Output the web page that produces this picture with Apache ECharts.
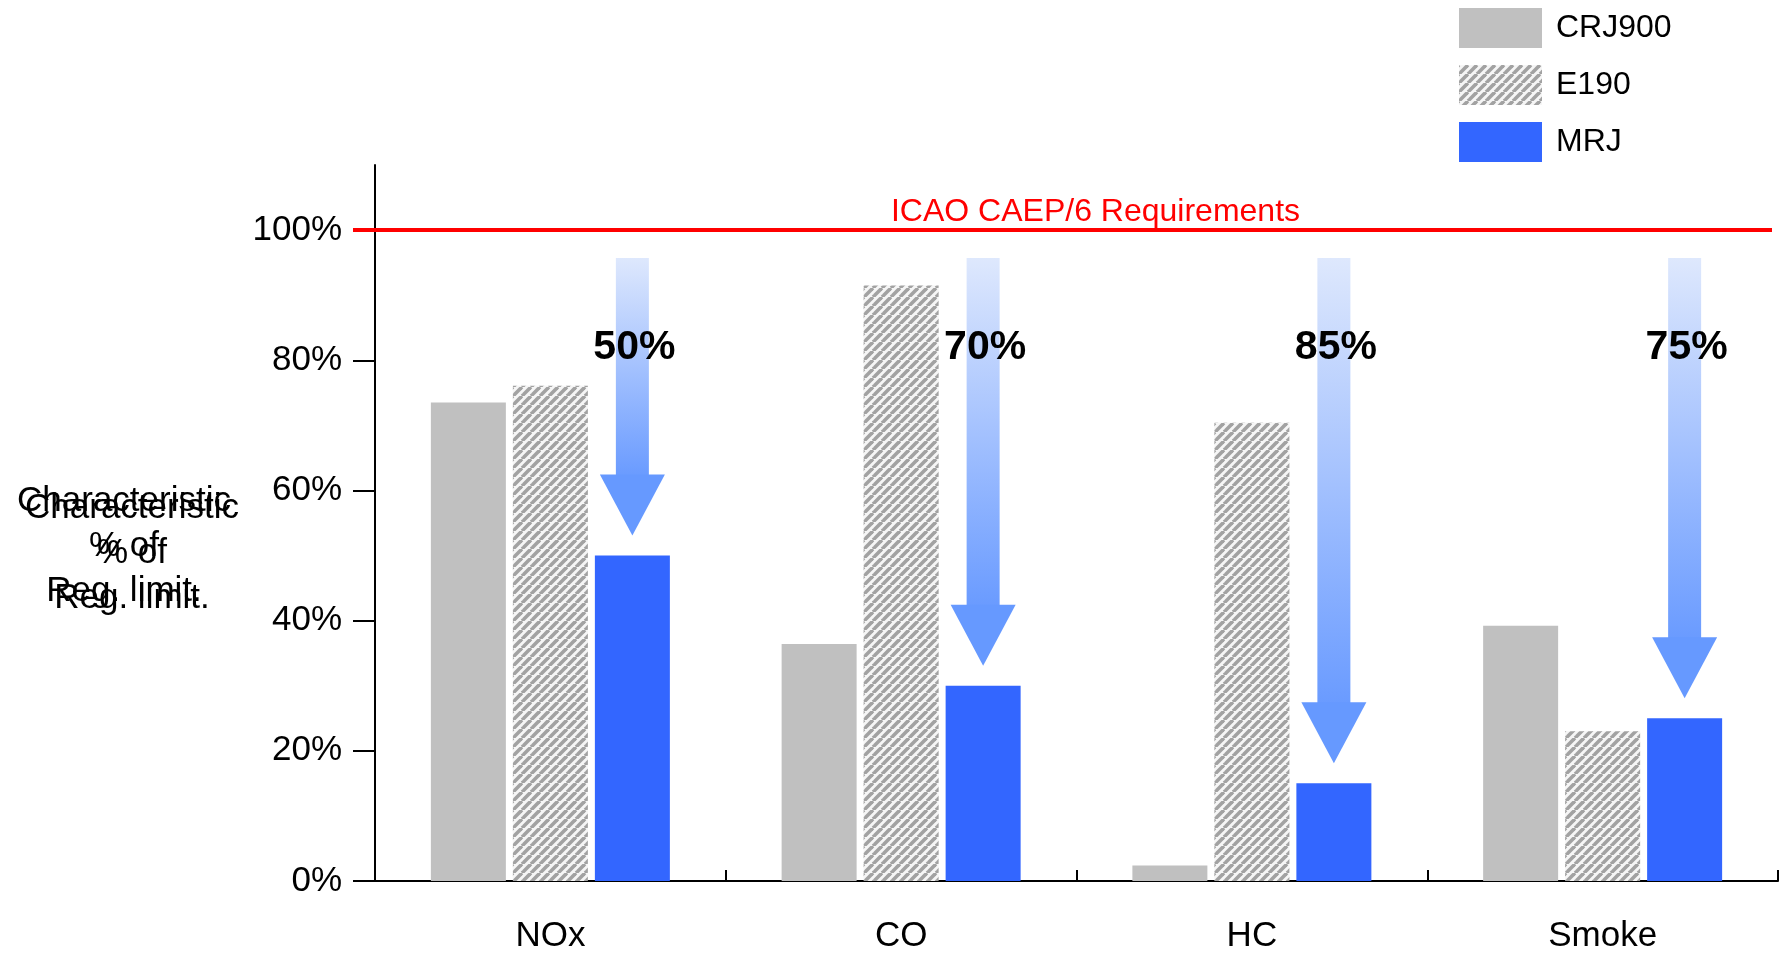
<!DOCTYPE html>
<html>
<head>
<meta charset="utf-8">
<script src="https://cdn.jsdelivr.net/npm/echarts@6/dist/echarts.min.js"></script>
<style>
html,body{margin:0;padding:0;background:#fff;}
#chart{width:1784px;height:954px;}
</style>
</head>
<body>
<div id="chart"></div>
<script>
// ---- data ----
const categories = ['NOx', 'CO', 'HC', 'Smoke'];
const crj900 = [73.5, 36.4, 2.4, 39.2];
const e190 = [76.1, 91.5, 70.4, 23.0];
const mrj = [50, 30, 15, 25];
const reductions = ['50%', '70%', '85%', '75%'];
const yTicks = [0, 20, 40, 60, 80, 100];
const requirementLevel = 100;
const requirementLabel = 'ICAO CAEP/6 Requirements';
const arrowTopValue = 95.7;
const reductionLabelValue = 82.0;
const yName = 'Characteristic\n% of\nReg. limit.';

// ---- style constants ----
const FONT = "'Liberation Sans', Arial, sans-serif";
const BAR_W = 75;
const BAR_GAP_PX = 7;

function makeHatch() {
  const s = 9;
  const c = document.createElement('canvas');
  c.width = s; c.height = s;
  const ctx = c.getContext('2d');
  ctx.fillStyle = '#f6f6f6';
  ctx.fillRect(0, 0, s, s);
  ctx.strokeStyle = '#a2a2a2';
  ctx.lineWidth = 3.6;
  for (let k = -1; k <= 1; k++) {
    ctx.beginPath();
    ctx.moveTo(k * s, s);
    ctx.lineTo(k * s + s, 0);
    ctx.stroke();
  }
  return c;
}
const hatch = { image: makeHatch(), repeat: 'repeat' };

const chart = echarts.init(document.getElementById('chart'));

const arrowData = categories.map((c, i) => [i, mrj[i]]);

const option = {
  animation: false,
  backgroundColor: '#ffffff',
  textStyle: { fontFamily: FONT },
  grid: { left: 375, right: 6, top: 165, bottom: 71, containLabel: false },
  legend: {
    data: ['CRJ900', 'E190', 'MRJ'],
    orient: 'vertical',
    left: 1459,
    top: 8,
    padding: 0,
    itemWidth: 83,
    itemHeight: 40,
    itemGap: 17,
    icon: 'rect',
    textStyle: { fontSize: 32, color: '#000', fontFamily: FONT, padding: [12, 0, 0, 9] }
  },
  graphic: [
    { type: 'text', x: 124, y: 546, style: { text: yName, font: '35px ' + FONT, fill: '#000', align: 'center', verticalAlign: 'middle', lineHeight: 45 } },
    { type: 'text', x: 132, y: 553, style: { text: yName, font: '35px ' + FONT, fill: '#000', align: 'center', verticalAlign: 'middle', lineHeight: 45 } }
  ],
  xAxis: {
    type: 'category',
    data: categories,
    axisLine: { lineStyle: { color: '#000', width: 2 } },
    axisTick: { show: true, inside: true, length: 11, lineStyle: { color: '#000', width: 2 } },
    axisLabel: { fontSize: 35, color: '#000', margin: 38, fontFamily: FONT },
    splitLine: { show: false }
  },
  yAxis: {
    type: 'value',
    min: 0,
    max: 110,
    interval: 20,
    axisLine: { show: true, lineStyle: { color: '#000', width: 2 } },
    axisTick: { show: true, length: 22, lineStyle: { color: '#000', width: 2 }, customValues: yTicks },
    axisLabel: { fontSize: 35, color: '#000', margin: 33, fontFamily: FONT, formatter: '{value}%', customValues: yTicks },
    splitLine: { show: false }
  },
  series: [
    {
      name: 'CRJ900', type: 'bar', data: crj900, barWidth: BAR_W, barGap: (BAR_GAP_PX / BAR_W * 100) + '%',
      itemStyle: { color: '#c0c0c0' },
      markLine: {
        silent: true, symbol: 'none', animation: false,
        lineStyle: { color: '#ff0000', width: 4, type: 'solid' },
        label: {
          show: true, position: 'insideMiddleTop', formatter: requirementLabel,
          color: '#ff0000', fontSize: 32, fontFamily: FONT, distance: 2, padding: [0, 0, 0, 66]
        },
        data: [[{ yAxis: requirementLevel, x: 353 }, { yAxis: requirementLevel, x: 1772 }]]
      }
    },
    { name: 'E190', type: 'bar', data: e190, barWidth: BAR_W, itemStyle: { color: hatch } },
    { name: 'MRJ', type: 'bar', data: mrj, barWidth: BAR_W, itemStyle: { color: '#3366ff' } },
    {
      name: 'arrows', type: 'custom', data: arrowData, z: 5, clip: false,
      encode: { x: 0, y: 1 },
      renderItem: function (params, api) {
        const cat = api.value(0);
        const v = api.value(1);
        const label = reductions[params.dataIndex];
        const base = api.coord([cat, v]);
        const top = api.coord([cat, arrowTopValue]);
        const lab = api.coord([cat, reductionLabelValue]);
        const x = base[0] + BAR_W + BAR_GAP_PX;
        const tipY = base[1] - 20;
        const headTop = tipY - 61;
        const shaftW = 33, headW = 65;
        return {
          type: 'group',
          children: [
            {
              type: 'rect',
              shape: { x: x - shaftW / 2, y: top[1], width: shaftW, height: headTop - top[1] + 1 },
              style: {
                fill: new echarts.graphic.LinearGradient(0, 0, 0, 1, [
                  { offset: 0, color: '#dee8fd' },
                  { offset: 1, color: '#6a9bff' }
                ])
              }
            },
            {
              type: 'polygon',
              shape: { points: [[x - headW / 2, headTop], [x + headW / 2, headTop], [x, tipY]] },
              style: { fill: '#6699ff' }
            },
            {
              type: 'text',
              x: x + 2, y: lab[1],
              style: { text: label, font: 'bold 41px ' + FONT, fill: '#000', align: 'center', verticalAlign: 'middle' }
            }
          ]
        };
      }
    }
  ]
};
chart.setOption(option);
</script>
</body>
</html>
